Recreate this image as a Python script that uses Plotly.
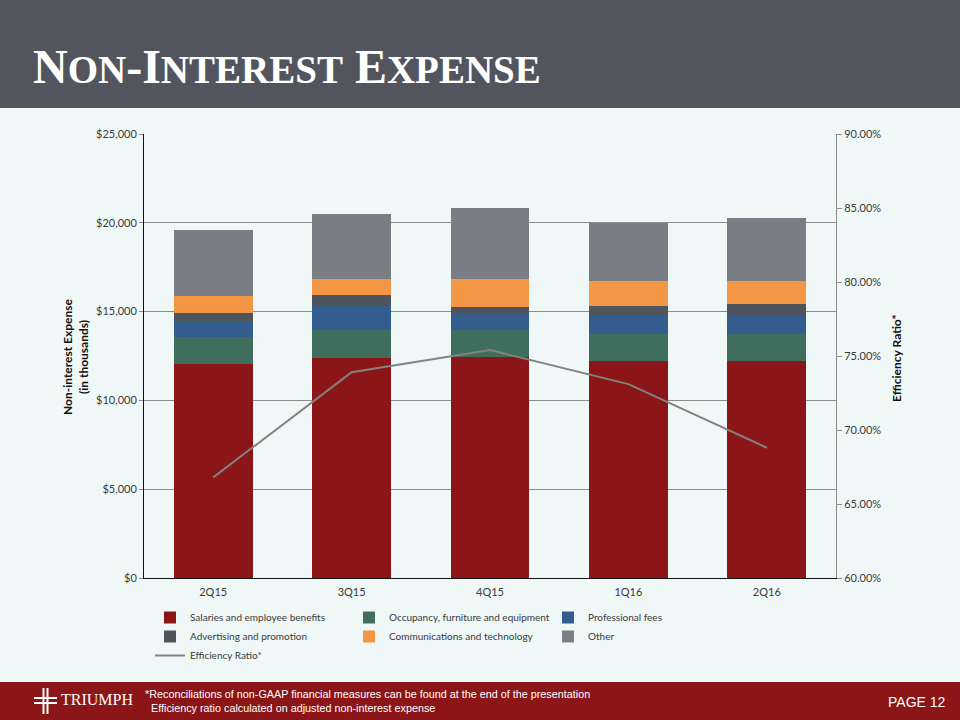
import plotly.graph_objects as go

# ---------------- data ----------------
quarters = ["2Q15", "3Q15", "4Q15", "1Q16", "2Q16"]
salaries = [12070, 12400, 12460, 12220, 12220]
occupancy = [1520, 1560, 1500, 1520, 1520]
professional = [870, 1350, 900, 1090, 1090]
advertising = [470, 620, 390, 490, 600]
communications = [960, 920, 1580, 1430, 1310]
other = [3720, 3640, 4000, 3230, 3530]
efficiency_ratio = [66.8, 73.9, 75.4, 73.1, 68.8]

series_names = ["Salaries and employee benefits", "Occupancy, furniture and equipment",
                "Professional fees", "Advertising and promotion",
                "Communications and technology", "Other"]
series_values = [salaries, occupancy, professional, advertising, communications, other]
series_colors = ["#8c1617", "#3f6e5f", "#335d8e", "#4f535b", "#f39646", "#7a7d84"]

# ---------------- layout geometry ----------------
W, H = 960, 720
PL, PR, PT, PB = 144, 836, 134, 578  # plot area in px


def px(x):
    return (x - PL) / (PR - PL)


def py(y):
    return (PB - y) / (PB - PT)


BG = "#eff7f7"
TXT = "#3a3a3a"
FONT = "Lato, 'Open Sans', sans-serif"

fig = go.Figure()
for name, vals, col in zip(series_names, series_values, series_colors):
    fig.add_trace(go.Bar(x=quarters, y=vals, name=name, marker=dict(color=col, line=dict(width=0)),
                         yaxis="y"))

fig.add_trace(go.Scatter(x=quarters, y=efficiency_ratio, name="Efficiency Ratio*", mode="lines",
                         line=dict(color="#828282", width=2), yaxis="y2"))

shapes = [
    # header band
    dict(type="rect", xref="paper", yref="paper", x0=px(0), x1=px(W), y0=py(108), y1=py(0),
         fillcolor="#52555e", line=dict(width=0), layer="below"),
    # footer band
    dict(type="rect", xref="paper", yref="paper", x0=px(0), x1=px(W), y0=py(H), y1=py(682),
         fillcolor="#8b1517", line=dict(width=0), layer="below"),
]
# logo cross
for (x0, x1, y0, y1) in [(42.5, 44.5, 688, 714), (46.5, 48.5, 688, 714),
                         (34, 57, 697, 699), (34, 57, 702, 704)]:
    shapes.append(dict(type="rect", xref="paper", yref="paper", x0=px(x0), x1=px(x1),
                       y0=py(y1), y1=py(y0), fillcolor="white", line=dict(width=0)))

SC = "<span style='font-size:39px'>{}</span>"
title_text = "N" + SC.format("ON") + "-I" + SC.format("NTEREST") + " E" + SC.format("XPENSE")

annotations = [
    dict(text=title_text, x=px(31), y=py(66), xref="paper", yref="paper",
         xanchor="left", yanchor="middle", showarrow=False,
         font=dict(family="'Liberation Serif', 'DejaVu Serif', serif", size=48, color="white",
                   weight="bold")),
    dict(text="Non-interest Expense<br>(in thousands)", x=px(75), y=py(357), xref="paper",
         yref="paper", xanchor="center", yanchor="middle", showarrow=False, textangle=-90,
         font=dict(family=FONT, size=12, color="#111", weight="bold")),
    dict(text="Efficiency Ratio*", x=px(896), y=py(358), xref="paper", yref="paper",
         xanchor="center", yanchor="middle", showarrow=False, textangle=-90,
         font=dict(family=FONT, size=12, color="#111", weight="bold")),
    dict(text="TRIUMPH", x=px(59), y=py(699), xref="paper", yref="paper", xanchor="left",
         yanchor="middle", showarrow=False,
         font=dict(family="'Liberation Serif', serif", size=16, color="white")),
    dict(text="*Reconciliations of non-GAAP financial measures can be found at the end of the presentation<br>"
              "  Efficiency ratio calculated on adjusted non-interest expense",
         x=px(143), y=py(701), xref="paper", yref="paper", xanchor="left", yanchor="middle",
         align="left", showarrow=False,
         font=dict(family="'Liberation Sans Narrow', 'Arial Narrow', 'Liberation Sans', sans-serif",
                   size=10.8, color="white")),
    dict(text="PAGE 12", x=px(948), y=py(702), xref="paper", yref="paper", xanchor="right",
         yanchor="middle", showarrow=False,
         font=dict(family="'Liberation Sans Narrow', 'Liberation Sans', sans-serif", size=14,
                   color="white")),
]

fig.update_layout(
    width=W, height=H,
    margin=dict(l=PL, r=W - PR, t=PT, b=H - PB, pad=0),
    paper_bgcolor=BG, plot_bgcolor=BG,
    barmode="stack", bargap=0.43,
    font=dict(family=FONT, size=11, color=TXT),
    showlegend=True,
    legend=dict(orientation="h", x=px(150), y=py(603), xanchor="left", yanchor="top",
                entrywidth=154, entrywidthmode="pixels", traceorder="normal",
                font=dict(family=FONT, size=10, color=TXT), bgcolor="rgba(0,0,0,0)",
                itemwidth=30, tracegroupgap=0),
    xaxis=dict(showline=True, linecolor="#111", linewidth=1, ticks="", showgrid=False,
               tickfont=dict(size=11, color=TXT), ticklabelstandoff=4),
    yaxis=dict(range=[0, 25000], dtick=5000, tickformat="$,.0f", showgrid=True,
               gridcolor="#8c8c8c", gridwidth=1, showline=True, linecolor="#111", linewidth=1,
               ticks="outside", ticklen=4, tickcolor="#8c8c8c", zeroline=False,
               tickfont=dict(size=11, color=TXT)),
    yaxis2=dict(range=[60, 90], dtick=5, ticksuffix="%", tickformat=".2f", overlaying="y",
                side="right", showgrid=False, showline=True, linecolor="#8c8c8c", linewidth=1,
                ticks="outside", ticklen=5, tickcolor="#8c8c8c", zeroline=False,
                tickfont=dict(size=11, color=TXT)),
    shapes=shapes,
    annotations=annotations,
)

fig.write_html("out.html", config={"displayModeBar": False},
               post_script="document.body.style.margin='0px';document.body.style.overflow='hidden';")
